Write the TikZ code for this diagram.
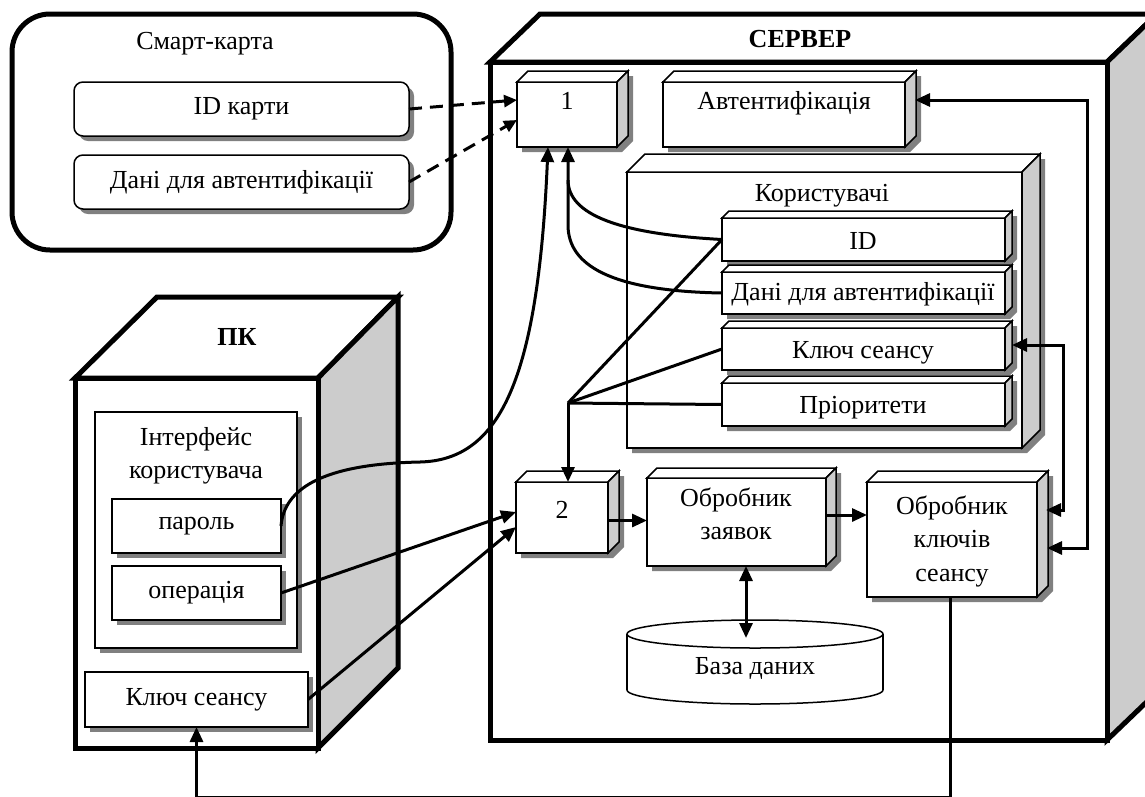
\documentclass[tikz,border=0pt]{standalone}
\usepackage{fontspec}
\setmainfont{Liberation Serif}
\usetikzlibrary{arrows.meta,calc,shapes.geometric,shadows}
\definecolor{sidegray}{HTML}{CCCCCC}
\definecolor{shadowgray}{HTML}{808080}
\tikzset{
  boxline/.style={line width=1.5pt, line join=miter},
  boxfront/.style={boxline, draw, fill=white, inner sep=0pt, outer sep=0pt},
  flatbox/.style={boxfront, drop shadow={shadow xshift=5pt, shadow yshift=-5pt, fill=shadowgray, opacity=1}},
  heavy/.style={line width=5pt, line join=miter},
  conn/.style={line width=3pt},
  arr/.style={conn, -{Triangle[length=15pt,width=13pt]}},
  biarr/.style={conn, {Triangle[length=15pt,width=13pt]}-{Triangle[length=15pt,width=13pt]}},
  dasharr/.style={conn, dash pattern=on 13pt off 8pt, -{Triangle[length=13pt,width=12pt]}},
  txt/.style={inner sep=0pt, align=center},
  bold/.style={txt, font=\fontsize{26}{33}\selectfont\bfseries},
}
\newcommand{\cubebox}[6]{%
  \fill[shadowgray] ({#2+5},{#3+5}) -- ({#2+#6+5},{#3-#6+5}) -- ({#4+#6+5},{#3-#6+5}) -- ({#4+#6+5},{#5-#6+5}) -- ({#4+5},{#5+5}) -- ({#2+5},{#5+5}) -- cycle;
  \node[boxfront, minimum width={(#4-#2)*1pt}, minimum height={(#5-#3)*1pt}] (#1) at ({(#2+#4)/2},{(#3+#5)/2}) {};
  \filldraw[boxline, fill=white] (#2,#3) -- ({#2+#6},{#3-#6}) -- ({#4+#6},{#3-#6}) -- (#4,#3) -- cycle;
  \filldraw[boxline, fill=sidegray] (#4,#3) -- ({#4+#6},{#3-#6}) -- ({#4+#6},{#5-#6}) -- (#4,#5) -- cycle;
}
\begin{document}
\begin{tikzpicture}[x=1pt,y=-1pt,font=\fontsize{26}{33.5}\selectfont]
\useasboundingbox (0,0) rectangle (1145,796);
\clip (0,0) rectangle (1145,796);

% ---------- Smart card ----------
\node[draw, line width=5pt, rounded corners=38pt, minimum width=439pt, minimum height=236pt, inner sep=0pt] (card) at (231.5,132) {};
\node[txt] (cardt) at (205,44) {Смарт-карта};
\node[flatbox, rounded corners=9pt, minimum width=335pt, minimum height=54pt] (idcard) at (241.5,109) {ID карти};
\node[flatbox, rounded corners=9pt, minimum width=335pt, minimum height=54pt] (carddata) at (241.5,182) {Дані для автентифікації};

% ---------- Server ----------
\filldraw[heavy, fill=white] (490,62) -- (540,14) -- (1157,14) -- (1107,62) -- cycle;
\filldraw[heavy, fill=sidegray] (1107,62) -- (1157,14) -- (1157,692) -- (1107,740) -- cycle;
\node[draw, heavy, fill=white, minimum width=617pt, minimum height=678pt, inner sep=0pt] (server) at (798.5,401) {};
\node[bold] (servt) at (800,39) {СЕРВЕР};

\cubebox{b1}{517}{82}{617}{147}{11}
\node[txt] (b1t) at (567,101) {1};
\cubebox{auth}{663}{82}{905}{147}{11}
\node[txt] (autht) at (784,103) {Автентифікація};

\cubebox{users}{627}{172}{1022}{448}{18}
\node[txt] (userst) at (822,196) {Користувачі};
\cubebox{idu}{722}{218}{1005}{261}{7}
\node[txt] (idut) at (863,241) {ID};
\cubebox{datau}{722}{272}{1005}{314}{7}
\node[txt] (datat) at (863,294) {Дані для автентифікації};
\cubebox{keyu}{722}{328}{1005}{370}{7}
\node[txt] (keyut) at (863,353) {Ключ сеансу};
\cubebox{prio}{722}{383}{1005}{426}{7}
\node[txt] (priot) at (863,408) {Пріоритети};

\cubebox{b2}{516}{482}{608}{553}{11}
\node[txt] (b2t) at (562,510) {2};
\cubebox{req}{647}{478}{826}{566}{10}
\node[txt] (reqt) at (736,514) {Обробник\\заявок};
\cubebox{kproc}{867}{482}{1037}{597}{11}
\node[txt] (kproct) at (952,541) {Обробник\\ключів\\сеансу};

% database
\filldraw[boxline, fill=white] (755,690) ellipse [x radius=128, y radius=14];
\fill[white] (627,634) rectangle (883,690);
\draw[boxline] (627,634) -- (627,690) (883,634) -- (883,690);
\node[ellipse, boxline, draw, fill=white, minimum width=256pt, minimum height=28pt, inner sep=0pt] (dbtop) at (755,634) {};
\node[txt] (dbt) at (755,668) {База даних};

% ---------- PC ----------
\filldraw[heavy, fill=white] (75,378) -- (157,297) -- (398,297) -- (318,378) -- cycle;
\filldraw[heavy, fill=sidegray] (318,378) -- (398,297) -- (398,668) -- (318,748) -- cycle;
\node[draw, heavy, fill=white, minimum width=243pt, minimum height=370pt, inner sep=0pt] (pc) at (196.5,563) {};
\node[bold] (pct) at (237,337) {ПК};
\node[flatbox, minimum width=202pt, minimum height=236pt] (ui) at (196,530) {};
\node[txt] (uit) at (196,456) {Інтерфейс\\користувача};
\node[flatbox, minimum width=169pt, minimum height=54pt] (pw) at (196.5,526) {пароль};
\node[flatbox, minimum width=169pt, minimum height=54pt] (op) at (196.5,593) {операція};
\node[flatbox, minimum width=223pt, minimum height=55pt] (keypc) at (196.5,699.5) {Ключ сеансу};

% ---------- Connectors ----------
\draw[dasharr] (idcard.east) -- ([yshift=14.5pt]b1.west);
\draw[dasharr] (carddata.east) -- ([yshift=-5.5pt]b1.west);

\draw[arr] (pw.east) .. controls (284,490) and (320,464) .. (420,462)
  .. controls (500,460) and (538,380) .. ([xshift=-19pt]b1.south);
\draw[arr] (idu.west) .. controls (620,234) and (568,215) .. (568,180) -- ([xshift=1pt]b1.south);
\draw[conn] (datau.west) .. controls (610,291) and (568,265) .. (568,225) -- (568,180);

\coordinate (hub) at (568,403);
\draw[conn] (idu.west) -- (hub);
\draw[conn] (keyu.west) -- (hub);
\draw[conn] (prio.west) -- (hub);
\draw[arr] (hub) -- (hub |- b2.north);

\draw[arr] ([yshift=-3pt]b2.east) -- ([yshift=-3pt]b2.east -| req.west);
\draw[arr] ([yshift=7pt]req.east) -- ([yshift=7pt]req.east -| kproc.west);
\coordinate (dbin) at (746,638);
\draw[biarr] ([xshift=9.5pt]req.south) -- (dbin);

\draw[arr] (op.east) -- ([yshift=5.5pt]b2.west);
\draw[arr] (keypc.east) -- ([yshift=-9.5pt]b2.west);

\coordinate (authside) at (915,100);
\coordinate (kprocsidea) at (1047,548);
\draw[biarr] (authside) -- (1087,100) -- (1087,548) -- (kprocsidea);
\coordinate (keyuside) at (1012,345);
\coordinate (kprocsideb) at (1046,510);
\draw[biarr] (keyuside) -- (1063,345) -- (1063,510) -- (kprocsideb);

\draw[arr] ([xshift=-2pt]kproc.south) -- ++(0,200) -| (keypc.south);
\end{tikzpicture}
\end{document}
